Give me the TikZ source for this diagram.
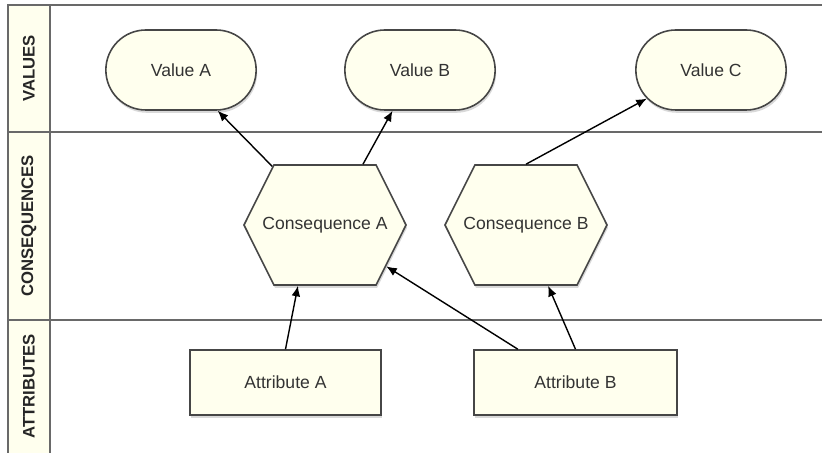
\documentclass[tikz,border=0pt]{standalone}
\usepackage{fontspec}
\setmainfont{Liberation Sans}
\usetikzlibrary{arrows.meta,shapes.misc,shapes.symbols,shadows}
\definecolor{cream}{RGB}{255,255,238}
\definecolor{edge}{RGB}{70,70,70}
\definecolor{lane}{RGB}{105,105,105}

\begin{document}
\begin{tikzpicture}[
  box/.style={draw=edge, line width=0.9pt, fill=cream, text=black!80,
    font=\fontsize{10}{12}\selectfont,
    drop shadow={shadow xshift=0.6pt, shadow yshift=-1.6pt, opacity=0.3}},
  valuebox/.style={box, rounded rectangle, minimum width=3.24cm, minimum height=1.6cm},
  consbox/.style={box, signal, signal to=west and east, signal pointer angle=127,
    inner xsep=-7.6pt, minimum width=3.24cm, minimum height=2.4cm},
  attrbox/.style={box, rectangle, minimum height=1.3cm},
  lanelabel/.style={rotate=90, font=\bfseries\fontsize{9.5}{11}\selectfont, text=black!85},
  lanerule/.style={draw=lane, line width=1pt},
  link/.style={-{Latex[length=6pt,width=5pt]}, line width=0.8pt}
]
  \useasboundingbox (0,0) rectangle (16.44,9.06);

  \fill[cream] (0.16,-0.1) rectangle (1.0,8.96);
  \draw[lanerule] (16.6,8.96) -- (0.16,8.96) -- (0.16,-0.1);
  \draw[lanerule] (1.0,8.96) -- (1.0,-0.1);
  \draw[lanerule] (0.16,6.42) -- (16.6,6.42);
  \draw[lanerule] (0.16,2.66) -- (16.6,2.66);

  \node[lanelabel] (lblval) at (0.58,7.69) {VALUES};
  \node[lanelabel] (lblcons) at (0.58,4.54) {CONSEQUENCES};
  \node[lanelabel] (lblattr) at (0.58,1.33) {ATTRIBUTES};

  \node[valuebox] (valA) at (3.62,7.66) {Value A};
  \node[valuebox] (valB) at (8.4,7.66) {Value B};
  \node[valuebox] (valC) at (14.22,7.66) {Value C};

  \node[consbox] (consA) at (6.5,4.56) {Consequence A};
  \node[consbox] (consB) at (10.52,4.56) {Consequence B};

  \node[attrbox, minimum width=3.82cm] (attrA) at (5.71,1.41) {Attribute A};
  \node[attrbox, minimum width=4.06cm] (attrB) at (11.51,1.41) {Attribute B};

  \draw[link] (consA.132) -- (valA.-48);
  \draw[link] (consA.58) -- (valB.236);
  \draw[link] (consB.north) -- (valC.204);
  \draw[link] (attrA.north) -- (consA.246);
  \draw[link] (attrB.150) -- (consA.-34);
  \draw[link] (attrB.north) -- (consB.-70);
\end{tikzpicture}
\end{document}
